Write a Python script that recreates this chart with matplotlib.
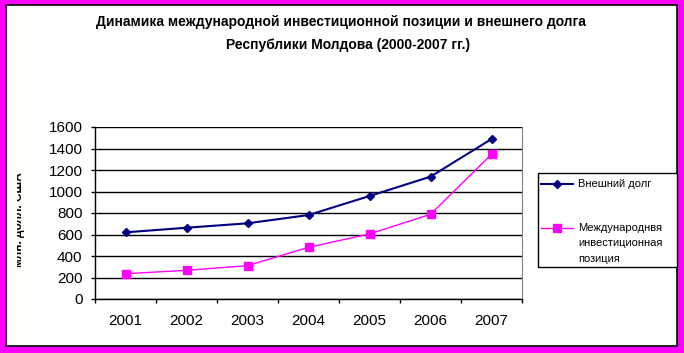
import matplotlib
matplotlib.use("Agg")
import matplotlib.pyplot as plt
from matplotlib.patches import Rectangle
from matplotlib.lines import Line2D
from matplotlib.transforms import Bbox

plt.rcParams['font.family'] = ['Liberation Sans', 'DejaVu Sans']

# данные (млн. долл. США)
years = ['2001', '2002', '2003', '2004', '2005', '2006', '2007']
debt = [620, 663, 704, 781, 958, 1138, 1488]
iip = [235, 267, 310, 481, 605, 788, 1346]
yticks = [0, 200, 400, 600, 800, 1000, 1200, 1400, 1600]

title1 = 'Динамика международной инвестиционной позиции и внешнего долга'
title2 = 'Республики Молдова (2000-2007 гг.)'
label_debt = 'Внешний долг'
label_iip = ['Международнвя', 'инвестиционная', 'позиция']

W, H = 684, 353
fig = plt.figure(figsize=(W / 100, H / 100), dpi=100, facecolor='#ff00ff')

# белая область диаграммы с чёрной рамкой
fig.patches.append(Rectangle((6 / W, 1 - 346 / H), 671 / W, 341 / H,
                             transform=fig.transFigure, facecolor='white',
                             edgecolor='black', lw=1.2, zorder=-5))

ax = fig.add_axes([95 / W, 1 - 299 / H, 427 / W, 172 / H])
ax.set_zorder(1)
x = list(range(1, len(years) + 1))

ax.plot(x, debt, color='#000080', lw=1.5, marker='D', ms=4.5, zorder=3)
ax.plot(x, iip, color='#ff00ff', lw=1, marker='s', ms=6, zorder=3)

ax.set_xlim(0.5, len(years) + 0.5)
ax.set_ylim(0, 1600)
ax.set_yticks(yticks)
ax.set_yticklabels([str(v) for v in yticks])
ax.grid(axis='y', color='black', lw=1)
ax.set_axisbelow(True)

# категории: деления на границах, подписи по центру
ax.set_xticks([i + 0.5 for i in range(len(years) + 1)])
ax.set_xticklabels([])
ax.set_xticks(x, minor=True)
ax.set_xticklabels(years, minor=True)
ax.tick_params(axis='x', which='major', direction='out', length=3, width=1)
ax.tick_params(axis='x', which='minor', length=0, pad=11, labelsize=11)
ax.tick_params(axis='y', direction='out', length=3, width=1, pad=6, labelsize=11)

for s in ['left', 'bottom']:
    ax.spines[s].set_color('black')
    ax.spines[s].set_linewidth(1)
ax.spines['top'].set_visible(False)
ax.spines['right'].set_color('#808080')

# подпись оси Y, в оригинале обрезана
yl = fig.text(19 / W, 1 - 220 / H, 'млн. долл. США', rotation=90,
              ha='center', va='center', fontsize=8.5, fontweight='bold')
yl.set_clip_box(Bbox([[17, 0], [40, H]]))
yl.set_clip_on(True)

fig.text(341 / W, 1 - 22 / H, title1, ha='center', va='center',
         fontsize=10, fontweight='bold')
fig.text(348 / W, 1 - 45 / H, title2, ha='center', va='center',
         fontsize=10, fontweight='bold')

# легенда
fig.patches.append(Rectangle((538 / W, 1 - 267 / H), 139 / W, 94 / H,
                             transform=fig.transFigure, facecolor='white',
                             edgecolor='black', lw=1, zorder=2))
fig.lines.append(Line2D([541 / W, 573 / W], [1 - 184 / H] * 2,
                        transform=fig.transFigure, color='#000080', lw=1.5,
                        zorder=3))
fig.lines.append(Line2D([557 / W], [1 - 184 / H], transform=fig.transFigure,
                        color='#000080', marker='D', ms=4.5, zorder=3))
fig.lines.append(Line2D([541 / W, 573 / W], [1 - 228 / H] * 2,
                        transform=fig.transFigure, color='#ff00ff', lw=1,
                        zorder=3))
fig.lines.append(Line2D([557 / W], [1 - 228 / H], transform=fig.transFigure,
                        color='#ff00ff', marker='s', ms=6, zorder=3))
fig.text(578 / W, 1 - 184 / H, label_debt, ha='left', va='center',
         fontsize=8, zorder=4)
for i, t in enumerate(label_iip):
    fig.text(578 / W, 1 - (228 + 15.5 * i) / H, t, ha='left', va='center',
             fontsize=8, zorder=4)

fig.savefig('out.png', dpi=100, facecolor=fig.get_facecolor())
